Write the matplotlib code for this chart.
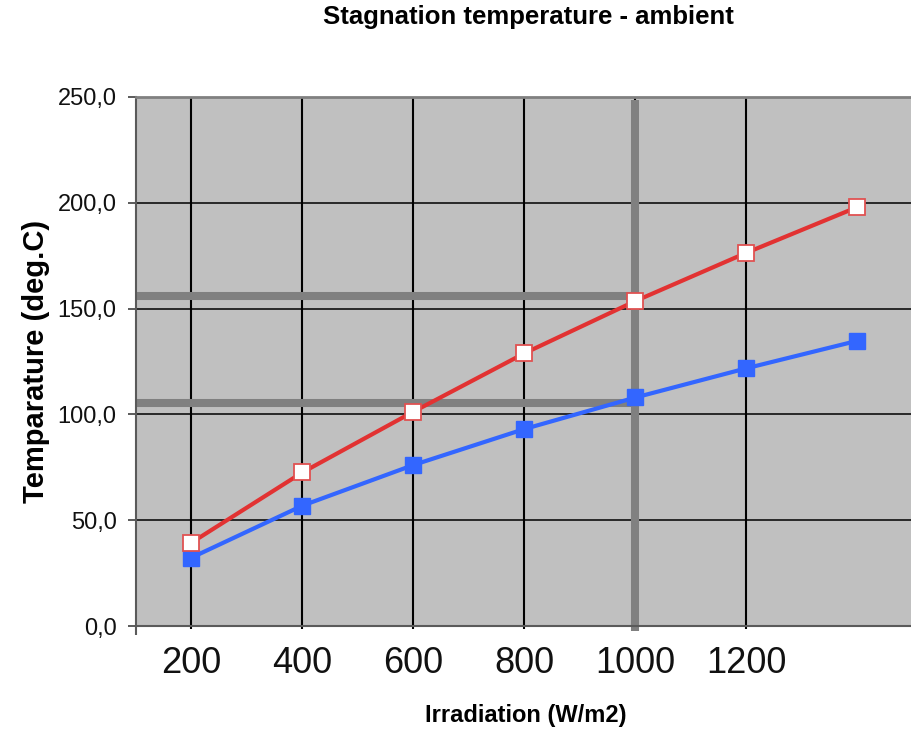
import matplotlib
matplotlib.use("Agg")
import matplotlib.pyplot as plt

# Irradiation levels (W/m2) and stagnation temperature above ambient (deg.C)
irradiation = [200, 400, 600, 800, 1000, 1200, 1400]
temp_red = [39.4, 72.6, 101.3, 128.9, 153.6, 176.4, 198.0]
temp_blue = [32.3, 56.9, 76.1, 93.1, 108.0, 121.8, 134.8]

x_ticks = [200, 400, 600, 800, 1000, 1200]
x_tick_labels = ["200", "400", "600", "800", "1000", "1200"]
y_ticks = [0, 50, 100, 150, 200, 250]

# Reference readings marked at 1000 W/m2
ref_irradiation = 1000
ref_levels = [156.0, 105.5]

plt.rcParams["font.family"] = ["Liberation Sans", "DejaVu Sans"]

fig = plt.figure(figsize=(9.12, 7.30), dpi=100)
ax = fig.add_axes([136 / 912, 104 / 730, 777 / 912, 529 / 730])
ax.set_facecolor("#C0C0C0")

ax.set_xlim(100, 1500)
ax.set_ylim(0, 250)

# Axes frame
for side in ("left", "bottom"):
    ax.spines[side].set_color("#5A5A5A")
    ax.spines[side].set_linewidth(1.5)
ax.spines["top"].set_color("#808080")
ax.spines["top"].set_linewidth(2.0)
ax.spines["right"].set_visible(False)

# Y axis
ax.set_yticks(y_ticks)
ax.set_yticklabels([f"{v:.1f}".replace(".", ",") for v in y_ticks], fontsize=17)
ax.tick_params(axis="y", direction="out", length=6, width=1.2, color="#404040",
               pad=8, labelcolor="#111111")

# X axis
ax.set_xticks(x_ticks)
ax.set_xticklabels(x_tick_labels, fontsize=26)
ax.tick_params(axis="x", direction="out", length=2.5, width=1.5, color="black",
               pad=12, labelcolor="#111111")
ax.set_xticks([100], minor=True)
ax.tick_params(axis="x", which="minor", direction="out", length=6.5, width=1.5,
               color="#5A5A5A")

# Grid
ax.grid(axis="y", color="black", linewidth=1.1, zorder=1)
ax.grid(axis="x", color="black", linewidth=1.5, zorder=1)
ax.set_axisbelow(True)

# Reference lines
x0 = ax.get_xlim()[0]
for level in ref_levels:
    ax.plot([x0, ref_irradiation], [level, level], color="#808080",
            linewidth=5.8, solid_capstyle="butt", zorder=2)
ax.axvline(ref_irradiation, ymin=-0.01, ymax=0.994, color="#808080",
           linewidth=5.8, solid_capstyle="butt", clip_on=False, zorder=2)

# Series
ax.plot(irradiation, temp_red, color="#E23232", linewidth=3.0, marker="s",
        markersize=11, markerfacecolor="white", markeredgecolor="#E05252",
        markeredgewidth=1.3, zorder=4)
ax.plot(irradiation, temp_blue, color="#3366FF", linewidth=3.0, marker="s",
        markersize=11, markerfacecolor="#3366FF", markeredgecolor="#3366FF",
        zorder=3)

# Titles
fig.text(528 / 912, 1 - 24 / 730, "Stagnation temperature - ambient",
         ha="center", va="baseline", fontsize=18.5, fontweight="bold")
fig.text(526 / 912, 1 - 722 / 730, "Irradiation (W/m2)",
         ha="center", va="baseline", fontsize=17, fontweight="bold")
fig.text(36 / 912, 1 - 361 / 730, "Temparature (deg.C)", rotation=90,
         ha="center", va="center", fontsize=21, fontweight="bold")

fig.savefig("out.png", dpi=100, facecolor="white")
